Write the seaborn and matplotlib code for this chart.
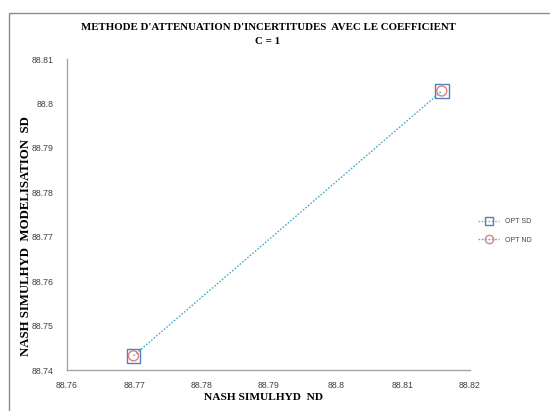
import numpy as np
import pandas as pd
import matplotlib
matplotlib.use("Agg")
import matplotlib.pyplot as plt
import seaborn as sns
from matplotlib.lines import Line2D
from matplotlib.patches import Rectangle

# Data
nash_nd = [88.7699, 88.8158]
nash_sd = [88.7432, 88.8028]
series_names = ["OPT SD", "OPT ND"]
x_ticks = [88.76, 88.77, 88.78, 88.79, 88.80, 88.81, 88.82]
x_tick_labels = ["88.76", "88.77", "88.78", "88.79", "88.8", "88.81", "88.82"]
y_ticks = [88.74, 88.75, 88.76, 88.77, 88.78, 88.79, 88.80, 88.81]
y_tick_labels = ["88.74", "88.75", "88.76", "88.77", "88.78", "88.79", "88.8", "88.81"]

df = pd.DataFrame({"nd": nash_nd, "sd": nash_sd})

sns.set_theme(style="white")
plt.rcParams["font.family"] = ["Liberation Sans", "DejaVu Sans"]

fig = plt.figure(figsize=(5.5, 4.11), dpi=100)
ax = fig.add_axes([67/550, 1-370/411, (470-67)/550, (370-59)/411])

c_line = "#4BACC6"
c_sq = "#4F81BD"
c_circ = "#E07F7F"
c_green = "#9BBB59"

sns.lineplot(data=df, x="nd", y="sd", ax=ax, color=c_line, linestyle=(0, (1.2, 1.2)),
             linewidth=1.0, marker=None, zorder=2)
sns.scatterplot(data=df, x="nd", y="sd", ax=ax, marker="s", s=100, facecolor="none",
                edgecolor=c_sq, linewidth=1.0, zorder=3)
sns.scatterplot(data=df, x="nd", y="sd", ax=ax, marker="o", s=52, facecolor="none",
                edgecolor=c_circ, linewidth=1.0, zorder=4)

ax.set_xlim(88.76, 88.82)
ax.set_ylim(88.74, 88.81)
ax.set_xticks(x_ticks)
ax.set_xticklabels(x_tick_labels)
ax.set_yticks(y_ticks)
ax.set_yticklabels(y_tick_labels)
ax.tick_params(axis="both", length=0, labelsize=6.3, colors="#404040")
ax.tick_params(axis="x", pad=8)
ax.tick_params(axis="y", pad=9.5)
for s in ["top", "right"]:
    ax.spines[s].set_visible(False)
for s in ["left", "bottom"]:
    ax.spines[s].set_color("#A6A6A6")
    ax.spines[s].set_linewidth(1.0)
ax.set_xlabel("")
ax.set_ylabel("")
ax.grid(False)

serif = ["Liberation Serif", "DejaVu Serif"]
fig.text(268/550, 1-27/411, "METHODE D'ATTENUATION D'INCERTITUDES  AVEC LE COEFFICIENT",
         ha="center", va="center", fontsize=7.8, fontweight="bold", family=serif, color="black")
fig.text(268/550, 1-41/411, "C = 1",
         ha="center", va="center", fontsize=7.8, fontweight="bold", family=serif, color="black")
fig.text(264/550, 1-397/411, "NASH SIMULHYD  ND", ha="center", va="center",
         fontsize=8.2, fontweight="bold", family=serif, color="black")
fig.text(26/550, 1-236/411, "NASH SIMULHYD  MODELISATION  SD", ha="center", va="center",
         rotation=90, fontsize=9.2, fontweight="bold", family=serif, color="black")

handles = [
    Line2D([], [], color=c_green, linestyle=(0, (1.2, 1.2)), linewidth=1.0,
           marker="s", markersize=6, markerfacecolor="none", markeredgecolor=c_sq),
    Line2D([], [], color=c_line, linestyle=(0, (1.2, 1.2)), linewidth=1.0,
           marker="o", markersize=6, markerfacecolor="none", markeredgecolor=c_circ),
]
fig.legend(handles, series_names, loc="center left", bbox_to_anchor=(472/550, 1-231/411),
           frameon=False, fontsize=5.0, handlelength=3.0, handletextpad=0.9,
           labelspacing=1.6, labelcolor="#404040")

fig.add_artist(Rectangle((9/550, -0.1), 1.2, 1-13/411+0.1, transform=fig.transFigure,
                         fill=False, edgecolor="#8C8C8C", linewidth=1.0))

fig.savefig("out.png", dpi=100)
